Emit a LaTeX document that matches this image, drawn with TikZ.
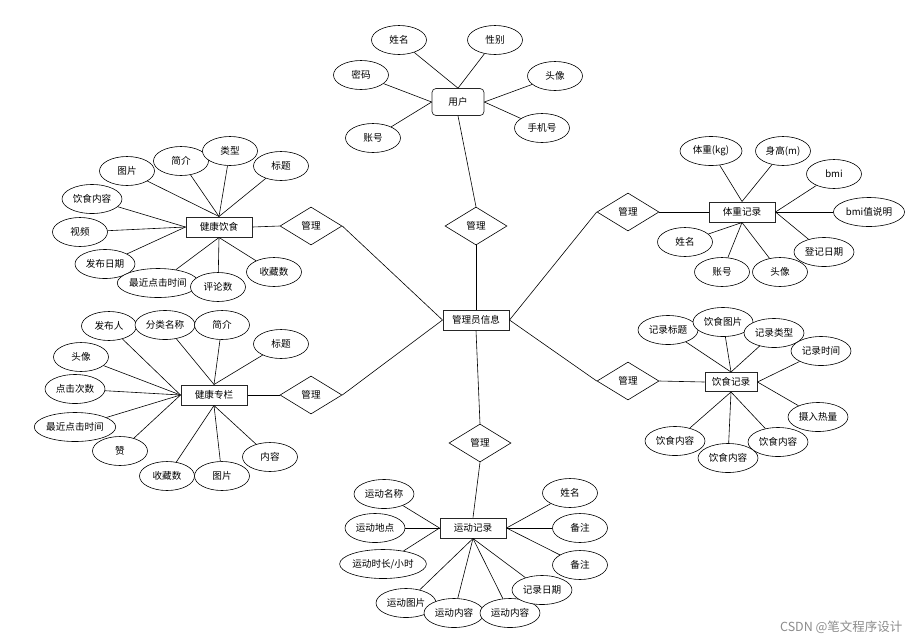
\documentclass[tikz,border=0pt]{standalone}
\usepackage{fontspec}
\setmainfont{Noto Sans CJK SC}
\usetikzlibrary{shapes.geometric}
\begin{document}
\begin{tikzpicture}[x=1pt, y=-1pt, font=\fontsize{9.6}{11}\selectfont,
		entity/.style={draw=black!85, line width=1pt, fill=white, minimum width=66pt, minimum height=20pt, inner sep=1pt},
		attr/.style={draw, ellipse, fill=white, line width=0.6pt, minimum width=55pt, minimum height=29pt, inner xsep=2pt, inner ysep=1pt},
		rel/.style={draw, diamond, fill=white, line width=0.6pt, aspect=1.6, minimum width=62pt, minimum height=38pt, inner sep=0pt},
		link/.style={line width=0.6pt}]
		\useasboundingbox (0,0) rectangle (909,641);
		
		% Central entity and the six relations
		\node[entity] (admin) at (476,320) {管理员信息};
		\node[rel] (mUser) at (476,226) {管理};
		\node[rel] (mDiet) at (311,226) {管理};
		\node[rel] (mColumn) at (311,395) {管理};
		\node[rel] (mWeight) at (628,212) {管理};
		\node[rel] (mMeal) at (628,381) {管理};
		\node[rel] (mSport) at (480,443) {管理};
		
		% User
		\node[entity, rounded corners=4pt, line width=0.7pt, minimum width=52pt, minimum height=27pt] (user) at (458,102) {用户};
		\node[attr] (uName) at (399,40) {姓名};
		\node[attr] (uSex) at (495,40) {性别};
		\node[attr] (uPwd) at (361,75) {密码};
		\node[attr] (uHead) at (555,76) {头像};
		\node[attr] (uAcc) at (373,138) {账号};
		\node[attr] (uPhone) at (542,128) {手机号};
		
		% Healthy diet
		\node[entity] (diet) at (219,227) {健康饮食};
		\node[attr] (dPic) at (127,171) {图片};
		\node[attr] (dIntro) at (181,161) {简介};
		\node[attr] (dType) at (230,151) {类型};
		\node[attr] (dTitle) at (281,166) {标题};
		\node[attr] (dContent) at (92,199) {饮食内容};
		\node[attr] (dVideo) at (80,232) {视频};
		\node[attr] (dDate) at (105,264) {发布日期};
		\node[attr, inner xsep=0pt] (dClick) at (158,283) {最近点击时间};
		\node[attr] (dComment) at (218,287) {评论数};
		\node[attr] (dFav) at (274,272) {收藏数};
		
		% Health column
		\node[entity] (column) at (214,395) {健康专栏};
		\node[attr] (cAuthor) at (109,326) {发布人};
		\node[attr] (cCat) at (165,325) {分类名称};
		\node[attr] (cIntro) at (222,325) {简介};
		\node[attr] (cTitle) at (281,344) {标题};
		\node[attr] (cHead) at (81,357) {头像};
		\node[attr] (cClicks) at (75,389) {点击次数};
		\node[attr, inner xsep=0pt] (cLast) at (75,427) {最近点击时间};
		\node[attr] (cLike) at (120,451) {赞};
		\node[attr] (cFav) at (167,476) {收藏数};
		\node[attr] (cPic) at (222,476) {图片};
		\node[attr] (cText) at (270,457) {内容};
		
		% Weight record
		\node[entity] (weight) at (742,212) {体重记录};
		\node[attr, minimum width=62pt] (wKg) at (711,151) {体重(kg)};
		\node[attr] (wHeight) at (783,151) {身高(m)};
		\node[attr] (wBmi) at (834,174) {bmi};
		\node[attr] (wBmiNote) at (869,212) {bmi值说明};
		\node[attr] (wDate) at (824,252) {登记日期};
		\node[attr] (wHead) at (780,272) {头像};
		\node[attr] (wAcc) at (722,272) {账号};
		\node[attr] (wName) at (685,242) {姓名};
		
		% Meal record
		\node[entity, minimum width=52pt, minimum height=19pt] (meal) at (731,382) {饮食记录};
		\node[attr] (eTitle) at (668,330) {记录标题};
		\node[attr] (ePic) at (723,322) {饮食图片};
		\node[attr] (eType) at (774,333) {记录类型};
		\node[attr] (eTime) at (821,351) {记录时间};
		\node[attr] (eKcal) at (818,417) {摄入热量};
		\node[attr] (eFoodA) at (675,441) {饮食内容};
		\node[attr] (eFoodC) at (778,442) {饮食内容};
		\node[attr] (eFoodB) at (728,458) {饮食内容};
		
		% Sport record
		\node[entity] (sport) at (473,528) {运动记录};
		\node[attr] (sName) at (384,494) {运动名称};
		\node[attr] (sPlace) at (375,528) {运动地点};
		\node[attr, inner xsep=0pt] (sHours) at (383,564) {运动时长/小时};
		\node[attr] (sPic) at (406,603) {运动图片};
		\node[attr] (sTextA) at (454,613) {运动内容};
		\node[attr] (sTextB) at (510,613) {运动内容};
		\node[attr] (sDate) at (542,590) {记录日期};
		\node[attr] (sUser) at (570,493) {姓名};
		\node[attr] (sNoteA) at (580,528) {备注};
		\node[attr] (sNoteB) at (580,565) {备注};
		
		% Relation links
		\draw[link] (mUser.south) -- (admin.north);
		\draw[link] (mUser.north) -- (user.south);
		\draw[link] (admin.west) -- (mDiet.east);
		\draw[link] (admin.west) -- (mColumn.east);
		\draw[link] (admin.east) -- (mWeight.west);
		\draw[link] (admin.east) -- (mMeal.west);
		\draw[link] (admin.south) -- (mSport.north);
		\draw[link] (mDiet.west) -- (diet.east);
		\draw[link] (mColumn.west) -- (column.east);
		\draw[link] (mWeight.east) -- (weight.west);
		\draw[link] (mMeal.east) -- (meal.west);
		\draw[link] (mSport.south) -- (sport.north);
		
		% Attribute links
		\foreach \a in {uName,uSex} \draw[link] (user.north) -- (\a);
		\foreach \a in {uPwd,uAcc} \draw[link] (user.west) -- (\a);
		\foreach \a in {uHead,uPhone} \draw[link] (user.east) -- (\a);
		
		\foreach \a in {dPic,dIntro,dType,dTitle} \draw[link] (diet.north) -- (\a);
		\foreach \a in {dContent,dVideo,dDate} \draw[link] (diet.west) -- (\a);
		\foreach \a in {dClick,dComment,dFav} \draw[link] (diet.south) -- (\a);
		
		\foreach \a in {cCat,cIntro,cTitle} \draw[link] (column.north) -- (\a);
		\foreach \a in {cAuthor,cHead,cClicks,cLast,cLike} \draw[link] (column.west) -- (\a);
		\foreach \a in {cFav,cPic,cText} \draw[link] (column.south) -- (\a);
		
		\foreach \a in {wKg,wHeight} \draw[link] (weight.north) -- (\a);
		\foreach \a in {wBmi,wBmiNote,wDate} \draw[link] (weight.east) -- (\a);
		\foreach \a in {wHead,wAcc,wName} \draw[link] (weight.south) -- (\a);
		
		\foreach \a in {eTitle,ePic,eType} \draw[link] (meal.north) -- (\a);
		\foreach \a in {eTime,eKcal} \draw[link] (meal.east) -- (\a);
		\foreach \a in {eFoodA,eFoodB,eFoodC} \draw[link] (meal.south) -- (\a);
		
		\foreach \a in {sName,sPlace,sHours} \draw[link] (sport.west) -- (\a);
		\foreach \a in {sPic,sTextA,sTextB,sDate} \draw[link] (sport.south) -- (\a);
		\foreach \a in {sUser,sNoteA,sNoteB} \draw[link] (sport.east) -- (\a);
		
		% Watermark
		\node[anchor=east, text=black!45, font=\fontsize{12.5}{14}\selectfont] (mark) at (906,627) {CSDN @笔文程序设计};
	\end{tikzpicture}
\end{document}
